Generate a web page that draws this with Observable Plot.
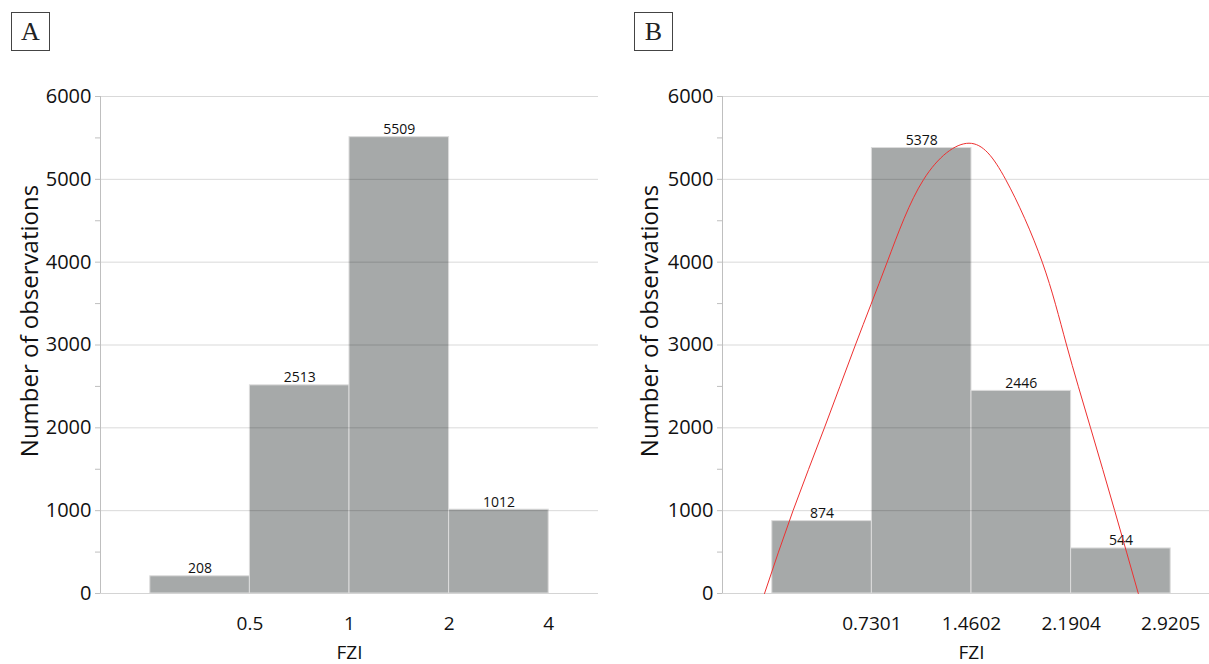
<!DOCTYPE html>
<html><head><meta charset="utf-8">
<script src="https://cdn.jsdelivr.net/npm/d3@7"></script>
<script src="https://cdn.jsdelivr.net/npm/@observablehq/plot@0.6"></script>
<style>
html,body{margin:0;padding:0;overflow:hidden;background:#fff;width:1209px;height:664px;}
#wrap{position:relative;width:1209px;height:664px;overflow:hidden;}
.panel{position:absolute;top:0;height:664px;}
.panel svg{max-width:none !important;display:block;}
.tag{position:absolute;top:12px;width:37px;height:37px;border:1.5px solid #444;font-family:"Liberation Serif",serif;font-size:26px;line-height:38px;text-align:center;color:#222;}
</style></head><body><div id="wrap"></div>
<script>
// Panel A data (bins labelled by their upper edge)
const labelsA = ["0.5", "1", "2", "4"];
const countsA = [208, 2513, 5509, 1012];
// Panel B data (equal-width bins in FZI)
const edgesB = [0, 0.7301, 1.4602, 2.1904, 2.9205];
const labelsB = ["0.7301", "1.4602", "2.1904", "2.9205"];
const countsB = [874, 5378, 2446, 544];
// Fitted curve in panel B
const curveX = [-0.057, 0.152, 0.382, 0.609, 0.842, 1.110, 1.442, 1.710, 1.979, 2.157, 2.333, 2.510, 2.683];
const curveY = [0, 1000, 2000, 3000, 4000, 5000, 5436, 5000, 4000, 3000, 2000, 1000, 0];
const yTicks = [0, 1000, 2000, 3000, 4000, 5000, 6000];
const yMinorTicks = d3.range(0, 6001, 500);

const FONT = "Open Sans";
const BAR = "#a6a9a9";

function panel({left, width, marginLeft, marginRight, bars, xDomain, xTicks, curve}) {
  const marks = [
    Plot.rect(bars, {x1: "x1", x2: "x2", y1: 0, y2: "y", fill: BAR, stroke: "#dcdcdc", strokeWidth: 1}),
    Plot.gridY(yTicks.slice(1), {stroke: "#000", strokeOpacity: 0.15, strokeWidth: 1}),
    Plot.ruleY([0], {stroke: "#d4d4d4"}),
    Plot.ruleX([xDomain[0]], {stroke: "#bfbfbf"}),
    Plot.axisY(yMinorTicks, {tickSize: 5, tickPadding: 4, stroke: "#bfbfbf", fontSize: 20,
      tickFormat: d => d % 1000 === 0 ? String(d) : "", label: null}),
    Plot.text(bars, {x: d => (d.x1 + d.x2) / 2, y: "y", text: d => String(d.y), lineAnchor: "bottom", dy: -3, fontSize: 14}),
    Plot.text(xTicks, {x: "x", text: "label", frameAnchor: "bottom", dy: 30, lineAnchor: "middle", fontSize: 19}),
    Plot.text(["FZI"], {frameAnchor: "bottom", dy: 59, lineAnchor: "middle", fontSize: 19}),
    Plot.text(["Number of observations"], {frameAnchor: "left", textAnchor: "middle", rotate: -90, dx: -marginLeft + 30, dy: -24, lineAnchor: "middle", fontSize: 24})
  ];
  if (curve) marks.push(Plot.line(curve, {x: "x", y: "y", stroke: "#ee3030", strokeWidth: 1, curve: "natural"}));
  const chart = Plot.plot({
    width, height: 664,
    marginLeft, marginRight, marginTop: 96, marginBottom: 71,
    style: {fontFamily: FONT, color: "#111", background: "transparent", overflow: "visible"},
    x: {domain: xDomain, axis: null},
    y: {domain: [0, 6000], axis: null},
    marks
  });
  chart.style.maxWidth = "none";
  const div = document.createElement("div");
  div.className = "panel";
  div.style.left = left + "px";
  div.style.width = width + "px";
  div.appendChild(chart);
  document.getElementById("wrap").appendChild(div);
}

// Panel A: bins by index
const barsA = countsA.map((c, i) => ({x1: i, x2: i + 1, y: c}));
const ticksA = labelsA.map((l, i) => ({x: i + 1, label: l}));
panel({left: 0, width: 610, marginLeft: 100, marginRight: 12, bars: barsA,
  xDomain: [-0.5, 4.5], xTicks: ticksA});

// Panel B
const barsB = countsB.map((c, i) => ({x1: edgesB[i], x2: edgesB[i + 1], y: c}));
const ticksB = labelsB.map((l, i) => ({x: edgesB[i + 1], label: l}));
const half = (edgesB[1] - edgesB[0]) / 2;
panel({left: 620, width: 620, marginLeft: 102, marginRight: 20, bars: barsB,
  xDomain: [edgesB[0] - half, edgesB[4] + half], xTicks: ticksB,
  curve: curveX.map((x, i) => ({x, y: curveY[i]}))});

// Panel tags
for (const [t, l] of [["A", 11], ["B", 634]]) {
  const d = document.createElement("div");
  d.className = "tag"; d.style.left = l + "px"; d.textContent = t;
  document.getElementById("wrap").appendChild(d);
}
</script></body></html>
